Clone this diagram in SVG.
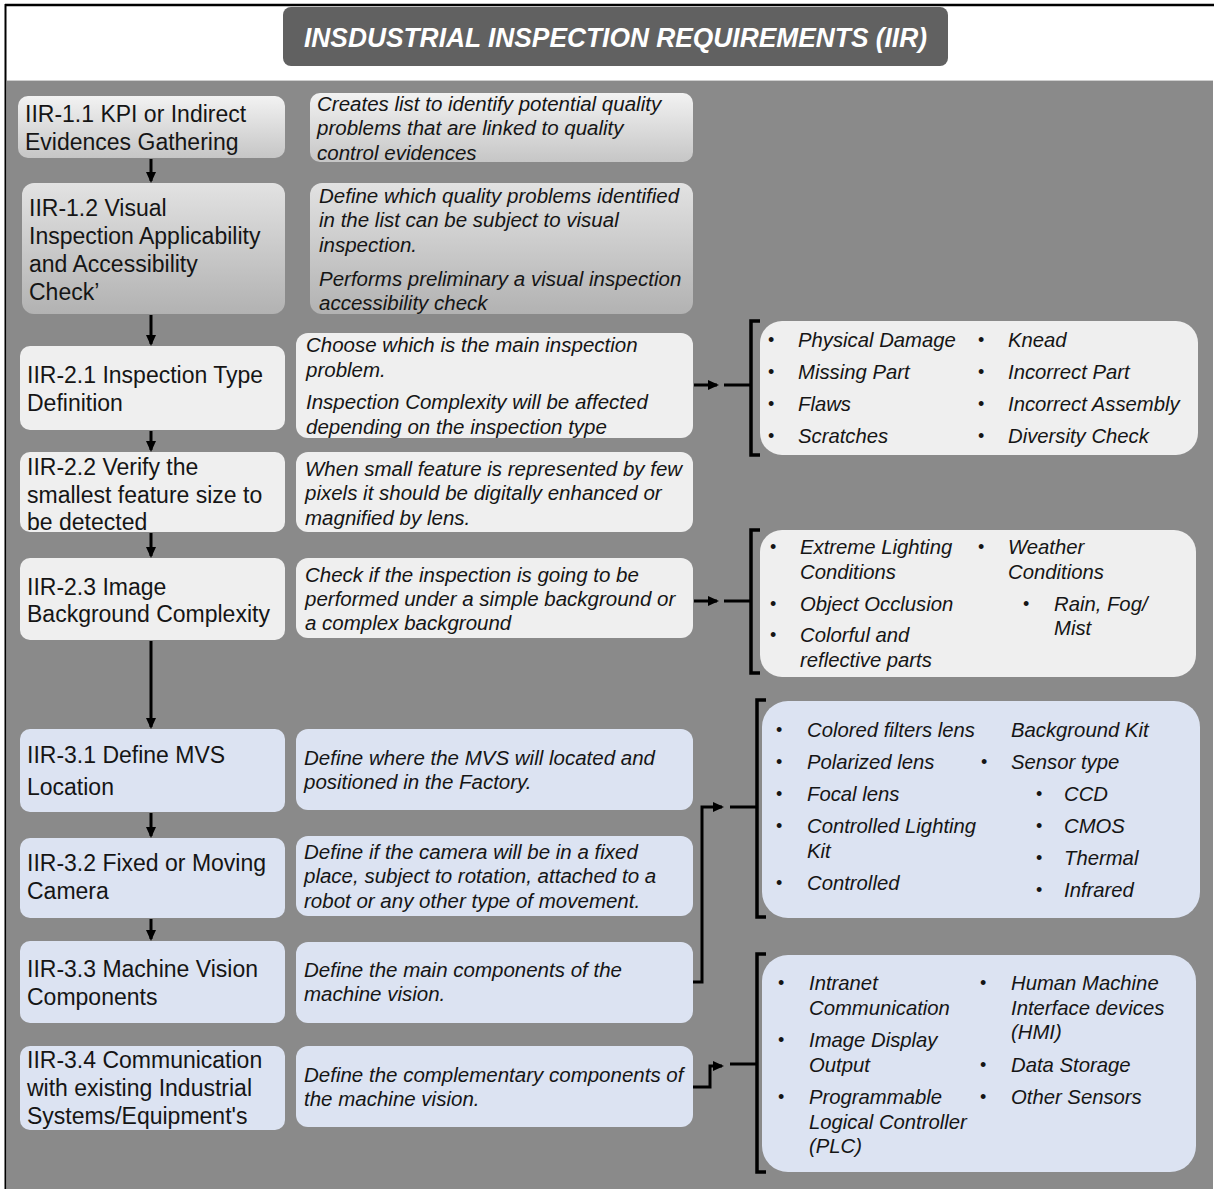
<svg xmlns="http://www.w3.org/2000/svg" width="1214" height="1189" viewBox="0 0 1214 1189">
  <defs>
    <linearGradient id="gLight" x1="0" y1="0" x2="0" y2="1">
      <stop offset="0" stop-color="#f2f2f2"/>
      <stop offset="1" stop-color="#c6c6c6"/>
    </linearGradient>
    <linearGradient id="gMid" x1="0" y1="0" x2="0" y2="1">
      <stop offset="0" stop-color="#e2e2e2"/>
      <stop offset="1" stop-color="#b2b2b2"/>
    </linearGradient>
    <marker id="ah" markerWidth="12" markerHeight="12" refX="9" refY="6" orient="auto" markerUnits="userSpaceOnUse">
      <path d="M0,1 L11,6 L0,11 Z" fill="#000"/>
    </marker>
  </defs>
  <style>
    .step { font-family: "Liberation Sans", Arial, sans-serif; font-size: 23px; fill: #151515; }
    .desc { font-family: "Liberation Sans", Arial, sans-serif; font-size: 20.5px; font-style: italic; fill: #151515; }
    .item { font-family: "Liberation Sans", Arial, sans-serif; font-size: 20.3px; font-style: italic; fill: #151515; }
    .dot { font-family: "Liberation Sans", Arial, sans-serif; font-size: 18px; fill: #151515; }
    .grey { fill: #efefef; }
    .blue { fill: #dce3f2; }
    .wire { fill: none; stroke: #000; stroke-width: 3; }
    .brk { fill: none; stroke: #000; stroke-width: 3.5; }
  </style>

  <!-- page frame and panel -->
  <rect x="0" y="0" width="1214" height="1189" fill="#ffffff"/>
  <line x1="5" y1="5" x2="1214" y2="5" stroke="#000" stroke-width="2.5"/>
  <line x1="5.5" y1="4" x2="5.5" y2="1189" stroke="#000" stroke-width="2"/>
  <rect x="7" y="80" width="1206" height="1109" fill="#8a8a8a"/>
  <line x1="7" y1="80.5" x2="1213" y2="80.5" stroke="#cfcfcf" stroke-width="1"/>

  <g id="title">
    <rect x="283" y="7" width="665" height="59" rx="8" fill="#616161"/>
    <text x="304" y="47" font-family="'Liberation Sans', Arial, sans-serif" font-size="27" font-weight="bold" font-style="italic" fill="#ffffff" textLength="623" lengthAdjust="spacingAndGlyphs">INSDUSTRIAL INSPECTION REQUIREMENTS (IIR)</text>
  </g>

  <!-- step boxes -->
  <g id="iir-1-1">
    <rect x="18" y="96" width="267" height="62" rx="10" fill="url(#gLight)"/>
    <text class="step" x="25" y="122">IIR-1.1 KPI or Indirect</text>
    <text class="step" x="25" y="150">Evidences  Gathering</text>
  </g>
  <g id="iir-1-1-desc">
    <rect x="310" y="93" width="383" height="69" rx="10" fill="url(#gLight)"/>
    <text class="desc" x="317" y="111">Creates list to identify potential quality</text>
    <text class="desc" x="317" y="135">problems that are linked to quality</text>
    <text class="desc" x="317" y="160">control evidences</text>
  </g>

  <g id="iir-1-2">
    <rect x="22" y="183" width="263" height="131" rx="12" fill="url(#gMid)"/>
    <text class="step" x="29" y="216">IIR-1.2 Visual</text>
    <text class="step" x="29" y="244">Inspection Applicability</text>
    <text class="step" x="29" y="272">and Accessibility</text>
    <text class="step" x="29" y="300">Check’</text>
  </g>
  <g id="iir-1-2-desc">
    <rect x="310" y="183" width="383" height="131" rx="12" fill="url(#gMid)"/>
    <text class="desc" x="319" y="203">Define which quality problems identified</text>
    <text class="desc" x="319" y="227">in the  list can be subject to visual</text>
    <text class="desc" x="319" y="252">inspection.</text>
    <text class="desc" x="319" y="286">Performs preliminary a visual inspection</text>
    <text class="desc" x="319" y="310">accessibility check</text>
  </g>

  <g id="iir-2-1">
    <rect class="grey" x="20" y="346" width="265" height="84" rx="10"/>
    <text class="step" x="27" y="383">IIR-2.1 Inspection  Type</text>
    <text class="step" x="27" y="411">Definition</text>
  </g>
  <g id="iir-2-1-desc">
    <rect class="grey" x="296" y="333" width="397" height="105" rx="12"/>
    <text class="desc" x="306" y="352">Choose which is the main inspection</text>
    <text class="desc" x="306" y="377">problem.</text>
    <text class="desc" x="306" y="409">Inspection Complexity will be affected</text>
    <text class="desc" x="306" y="434">depending on the inspection type</text>
  </g>

  <g id="iir-2-2">
    <rect class="grey" x="20" y="452" width="265" height="80" rx="10"/>
    <text class="step" x="27" y="475">IIR-2.2 Verify the</text>
    <text class="step" x="27" y="503">smallest  feature  size to</text>
    <text class="step" x="27" y="530">be detected</text>
  </g>
  <g id="iir-2-2-desc">
    <rect class="grey" x="296" y="452" width="397" height="80" rx="12"/>
    <text class="desc" x="305" y="476">When small feature is represented by few</text>
    <text class="desc" x="305" y="500">pixels it should be digitally enhanced or</text>
    <text class="desc" x="305" y="525">magnified by lens.</text>
  </g>

  <g id="iir-2-3">
    <rect class="grey" x="20" y="558" width="265" height="82" rx="10"/>
    <text class="step" x="27" y="595">IIR-2.3 Image</text>
    <text class="step" x="27" y="622">Background  Complexity</text>
  </g>
  <g id="iir-2-3-desc">
    <rect class="grey" x="296" y="558" width="397" height="80" rx="12"/>
    <text class="desc" x="305" y="582">Check if the inspection is going to be</text>
    <text class="desc" x="305" y="606">performed under a simple background or</text>
    <text class="desc" x="305" y="630">a complex background</text>
  </g>

  <g id="iir-3-1">
    <rect class="blue" x="20" y="729" width="265" height="83" rx="10"/>
    <text class="step" x="27" y="763">IIR-3.1 Define MVS</text>
    <text class="step" x="27" y="795">Location</text>
  </g>
  <g id="iir-3-1-desc">
    <rect class="blue" x="296" y="729" width="397" height="81" rx="12"/>
    <text class="desc" x="304" y="765">Define where the MVS will located and</text>
    <text class="desc" x="304" y="789">positioned in the Factory.</text>
  </g>

  <g id="iir-3-2">
    <rect class="blue" x="20" y="838" width="265" height="80" rx="10"/>
    <text class="step" x="27" y="871">IIR-3.2 Fixed  or  Moving</text>
    <text class="step" x="27" y="899">Camera</text>
  </g>
  <g id="iir-3-2-desc">
    <rect class="blue" x="296" y="836" width="397" height="80" rx="12"/>
    <text class="desc" x="304" y="859">Define if the camera will be in a fixed</text>
    <text class="desc" x="304" y="883">place, subject to rotation, attached to a</text>
    <text class="desc" x="304" y="908">robot or any other type of movement.</text>
  </g>

  <g id="iir-3-3">
    <rect class="blue" x="20" y="941" width="265" height="82" rx="10"/>
    <text class="step" x="27" y="977">IIR-3.3 Machine  Vision</text>
    <text class="step" x="27" y="1005">Components</text>
  </g>
  <g id="iir-3-3-desc">
    <rect class="blue" x="296" y="942" width="397" height="81" rx="12"/>
    <text class="desc" x="304" y="977">Define the main components of the</text>
    <text class="desc" x="304" y="1001">machine vision.</text>
  </g>

  <g id="iir-3-4">
    <rect class="blue" x="20" y="1046" width="265" height="84" rx="10"/>
    <text class="step" x="27" y="1068">IIR-3.4 Communication</text>
    <text class="step" x="27" y="1096">with existing  Industrial</text>
    <text class="step" x="27" y="1124">Systems/Equipment's</text>
  </g>
  <g id="iir-3-4-desc">
    <rect class="blue" x="296" y="1046" width="397" height="81" rx="12"/>
    <text class="desc" x="304" y="1082">Define the complementary components of</text>
    <text class="desc" x="304" y="1106">the machine vision.</text>
  </g>

  <!-- option lists -->
  <g id="inspection-types">
    <rect class="grey" x="760" y="321" width="438" height="134" rx="22"/>
    <text class="dot" x="768" y="346">•</text><text class="item" x="798" y="347">Physical Damage</text>
    <text class="dot" x="768" y="378">•</text><text class="item" x="798" y="379">Missing Part</text>
    <text class="dot" x="768" y="410">•</text><text class="item" x="798" y="411">Flaws</text>
    <text class="dot" x="768" y="442">•</text><text class="item" x="798" y="443">Scratches</text>
    <text class="dot" x="978" y="346">•</text><text class="item" x="1008" y="347">Knead</text>
    <text class="dot" x="978" y="378">•</text><text class="item" x="1008" y="379">Incorrect Part</text>
    <text class="dot" x="978" y="410">•</text><text class="item" x="1008" y="411">Incorrect Assembly</text>
    <text class="dot" x="978" y="442">•</text><text class="item" x="1008" y="443">Diversity Check</text>
  </g>

  <g id="background-factors">
    <rect class="grey" x="760" y="530" width="436" height="147" rx="22"/>
    <text class="dot" x="770" y="553">•</text><text class="item" x="800" y="554">Extreme Lighting</text>
    <text class="item" x="800" y="579">Conditions</text>
    <text class="dot" x="770" y="610">•</text><text class="item" x="800" y="611">Object Occlusion</text>
    <text class="dot" x="770" y="641">•</text><text class="item" x="800" y="642">Colorful and</text>
    <text class="item" x="800" y="667">reflective parts</text>
    <text class="dot" x="978" y="553">•</text><text class="item" x="1008" y="554">Weather</text>
    <text class="item" x="1008" y="579">Conditions</text>
    <text class="dot" x="1023" y="610">•</text><text class="item" x="1054" y="611">Rain, Fog/</text>
    <text class="item" x="1054" y="635">Mist</text>
  </g>

  <g id="mvs-components">
    <rect class="blue" x="762" y="701" width="438" height="217" rx="26"/>
    <text class="dot" x="776" y="736">•</text><text class="item" x="807" y="737">Colored filters lens</text>
    <text class="dot" x="776" y="768">•</text><text class="item" x="807" y="769">Polarized lens</text>
    <text class="dot" x="776" y="800">•</text><text class="item" x="807" y="801">Focal lens</text>
    <text class="dot" x="776" y="832">•</text><text class="item" x="807" y="833">Controlled Lighting</text>
    <text class="item" x="807" y="858">Kit</text>
    <text class="dot" x="776" y="889">•</text><text class="item" x="807" y="890">Controlled</text>
    <text class="item" x="1011" y="737">Background Kit</text>
    <text class="dot" x="981" y="768">•</text><text class="item" x="1011" y="769">Sensor type</text>
    <text class="dot" x="1036" y="800">•</text><text class="item" x="1064" y="801">CCD</text>
    <text class="dot" x="1036" y="832">•</text><text class="item" x="1064" y="833">CMOS</text>
    <text class="dot" x="1036" y="864">•</text><text class="item" x="1064" y="865">Thermal</text>
    <text class="dot" x="1036" y="896">•</text><text class="item" x="1064" y="897">Infrared</text>
  </g>

  <g id="communication-components">
    <rect class="blue" x="762" y="955" width="434" height="217" rx="26"/>
    <text class="dot" x="778" y="989">•</text><text class="item" x="809" y="990">Intranet</text>
    <text class="item" x="809" y="1015">Communication</text>
    <text class="dot" x="778" y="1046">•</text><text class="item" x="809" y="1047">Image Display</text>
    <text class="item" x="809" y="1072">Output</text>
    <text class="dot" x="778" y="1103">•</text><text class="item" x="809" y="1104">Programmable</text>
    <text class="item" x="809" y="1129">Logical Controller</text>
    <text class="item" x="809" y="1153">(PLC)</text>
    <text class="dot" x="980" y="989">•</text><text class="item" x="1011" y="990">Human Machine</text>
    <text class="item" x="1011" y="1015">Interface devices</text>
    <text class="item" x="1011" y="1039">(HMI)</text>
    <text class="dot" x="980" y="1071">•</text><text class="item" x="1011" y="1072">Data Storage</text>
    <text class="dot" x="980" y="1103">•</text><text class="item" x="1011" y="1104">Other Sensors</text>
  </g>

  <!-- connectors -->
  <g id="connectors">
    <line class="wire" x1="151" y1="159" x2="151" y2="181" marker-end="url(#ah)"/>
    <line class="wire" x1="151" y1="315" x2="151" y2="344" marker-end="url(#ah)"/>
    <line class="wire" x1="151" y1="431" x2="151" y2="450" marker-end="url(#ah)"/>
    <line class="wire" x1="151" y1="533" x2="151" y2="556" marker-end="url(#ah)"/>
    <line class="wire" x1="151" y1="641" x2="151" y2="727" marker-end="url(#ah)"/>
    <line class="wire" x1="151" y1="813" x2="151" y2="836" marker-end="url(#ah)"/>
    <line class="wire" x1="151" y1="919" x2="151" y2="939" marker-end="url(#ah)"/>

    <line class="wire" x1="694" y1="385" x2="717" y2="385" marker-end="url(#ah)"/>
    <line class="wire" x1="724" y1="385" x2="751" y2="385"/>
    <path class="brk" d="M760,321 L751,321 L751,455 L760,455"/>

    <line class="wire" x1="694" y1="601" x2="717" y2="601" marker-end="url(#ah)"/>
    <line class="wire" x1="724" y1="601" x2="751" y2="601"/>
    <path class="brk" d="M760,530 L751,530 L751,673 L760,673"/>

    <path class="wire" d="M693,982 L702,982 L702,807 L722,807" marker-end="url(#ah)"/>
    <line class="wire" x1="730" y1="807" x2="757" y2="807"/>
    <path class="brk" d="M766,700 L757,700 L757,917 L766,917"/>

    <path class="wire" d="M693,1087 L710,1087 L710,1066 L722,1066" marker-end="url(#ah)"/>
    <line class="wire" x1="730" y1="1064" x2="757" y2="1064"/>
    <path class="brk" d="M766,954 L757,954 L757,1172 L766,1172"/>
  </g>
</svg>
